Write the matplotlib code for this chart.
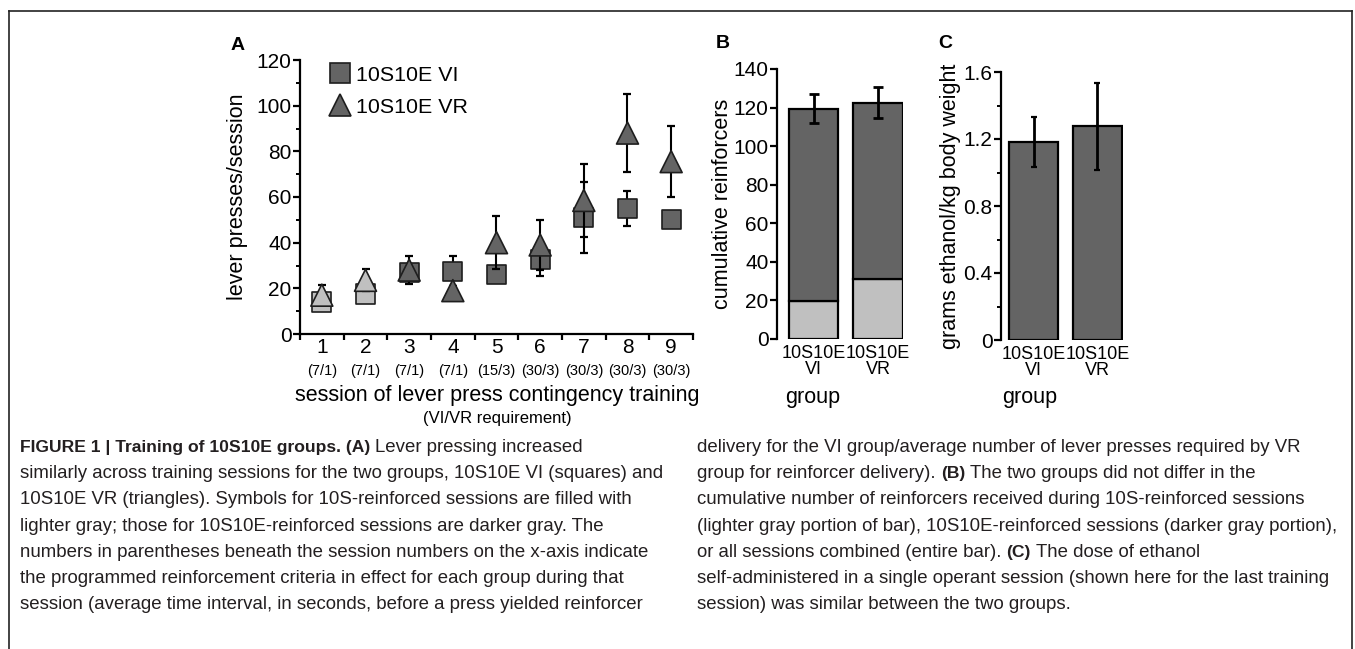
import matplotlib
matplotlib.use("Agg")
import numpy as np
import matplotlib.pyplot as plt
from matplotlib.lines import Line2D

plt.rcParams["font.family"] = ["Liberation Sans", "DejaVu Sans"]

# ---- data ----
sessions = [1, 2, 3, 4, 5, 6, 7, 8, 9]
requirement = ["(7/1)", "(7/1)", "(7/1)", "(7/1)", "(15/3)", "(30/3)", "(30/3)", "(30/3)", "(30/3)"]
reinforcer = ["10S", "10S", "10S10E", "10S10E", "10S10E", "10S10E", "10S10E", "10S10E", "10S10E"]
vi_mean = [14, 17.5, 27, 27.5, 26, 32.5, 51, 55, 50]
vi_sem = [2, 2, 3, 6.5, 3, 7, 15.5, 7.5, 2]
vr_mean = [17, 23.5, 28, 19, 40, 39, 58.5, 88, 75.5]
vr_sem = [4.5, 4.8, 6, 2, 11.5, 11, 16, 17, 15.5]

groups = ["10S10E\nVI", "10S10E\nVR"]
reinf_10s = [19.5, 31]
reinf_total = [119.5, 122.5]
reinf_sem = [7.5, 8]

dose = [1.18, 1.275]
dose_sem = [0.15, 0.26]

LIGHT = "#c0c0c0"
DARK = "#646464"
EDGE = "#1e1e1e"
W, H = 1355, 649

fig = plt.figure(figsize=(W / 100, H / 100), dpi=100)


def px_axes(x0, y0, x1, y1):
    return fig.add_axes([x0 / W, 1 - y1 / H, (x1 - x0) / W, (y1 - y0) / H])


def px_text(x, y, s, **kw):
    return fig.text(x / W, 1 - y / H, s, **kw)


def style_axes(ax):
    for side in ["top", "right", "bottom"]:
        ax.spines[side].set_visible(False)
    ax.spines["left"].set_linewidth(1.6)
    ax.tick_params(axis="y", which="major", length=5, width=1.6, labelsize=15, pad=1)
    ax.tick_params(axis="y", which="minor", length=3, width=1.4)


# ---- frame around the whole figure ----
for xs, ys in [([9, 9], [11, H]), ([9, 1352], [11, 11]), ([1352, 1352], [11, H])]:
    fig.add_artist(Line2D([x / W for x in xs], [1 - y / H for y in ys], color="#222222", lw=1.2))

# ---- panel A ----
axA = px_axes(300, 60, 693, 334)
style_axes(axA)
axA.spines["bottom"].set_visible(True)
axA.spines["bottom"].set_linewidth(1.6)
axA.set_xlim(0.5, 9.5)
axA.set_ylim(0, 120)
axA.set_yticks(np.arange(0, 121, 20))
axA.set_yticks(np.arange(10, 120, 20), minor=True)
axA.set_xticks(np.arange(0.5, 10, 1))
axA.set_xticklabels([])
axA.tick_params(axis="x", which="major", length=4, width=1.6)
axA.set_xticks(sessions, minor=True)
axA.set_xticklabels([str(s) for s in sessions], minor=True, fontsize=15)
axA.tick_params(axis="x", which="minor", length=0, pad=3)
for s, r in zip(sessions, requirement):
    axA.text(s, -0.135, r, transform=axA.get_xaxis_transform(), ha="center", va="center", fontsize=10.5)

colors = [LIGHT if r == "10S" else DARK for r in reinforcer]
axA.errorbar(sessions, vi_mean, yerr=vi_sem, fmt="none", ecolor="black", elinewidth=1.5,
             capsize=3, capthick=1.6, zorder=2)
axA.scatter(sessions, vi_mean, marker="s", s=190, c=colors, edgecolors=EDGE, linewidths=1.2, zorder=3)
axA.errorbar(sessions, vr_mean, yerr=vr_sem, fmt="none", ecolor="black", elinewidth=1.5,
             capsize=3, capthick=1.6, zorder=4)
axA.scatter(sessions, vr_mean, marker="^", s=250, c=colors, edgecolors=EDGE, linewidths=1.2, zorder=5)

handles = [
    Line2D([], [], marker="s", ls="none", ms=14, mfc=DARK, mec=EDGE, mew=1.2),
    Line2D([], [], marker="^", ls="none", ms=16, mfc=DARK, mec=EDGE, mew=1.2),
]
axA.legend(handles, ["10S10E VI", "10S10E VR"], loc="upper left", bbox_to_anchor=(0.045, 1.01),
           frameon=False, fontsize=15.4, handletextpad=0.1, labelspacing=0.6, handlelength=1.3,
           borderaxespad=0)
axA.set_ylabel("lever presses/session", fontsize=15.5)
axA.yaxis.set_label_coords(-0.132, 0.5)
px_text(497, 395, "session of lever press contingency training", ha="center", va="center", fontsize=15.5)
px_text(497, 418, "(VI/VR requirement)", ha="center", va="center", fontsize=12)
px_text(238, 46, "A", ha="center", va="center", fontsize=14, fontweight="bold")

# ---- panel B ----
axB = px_axes(777, 69, 903, 339)
style_axes(axB)
x = np.arange(len(groups))
axB.bar(x, reinf_10s, width=0.77, color=LIGHT, edgecolor="black", linewidth=1.6, zorder=2)
axB.bar(x, np.array(reinf_total) - np.array(reinf_10s), bottom=reinf_10s, width=0.77, color=DARK,
        edgecolor="black", linewidth=1.6, zorder=2)
axB.errorbar(x, reinf_total, yerr=reinf_sem, fmt="none", ecolor="black", elinewidth=2,
             capsize=3.5, capthick=2, zorder=3)
axB.set_xlim(-0.57, 1.39)
axB.set_ylim(0, 140)
axB.set_yticks(np.arange(0, 141, 20))
axB.set_xticks(x)
axB.set_xticklabels(groups, fontsize=13, linespacing=0.95)
axB.tick_params(axis="x", length=0, pad=4)
axB.set_ylabel("cumulative reinforcers", fontsize=15.5)
axB.yaxis.set_label_coords(-0.35, 0.5)
px_text(813, 398, "group", ha="center", va="center", fontsize=15.5)
px_text(723, 44, "B", ha="center", va="center", fontsize=14, fontweight="bold")

# ---- panel C ----
axC = px_axes(1001, 72, 1123, 340)
style_axes(axC)
axC.bar(x, dose, width=0.77, color=DARK, edgecolor="black", linewidth=1.6, zorder=2)
axC.errorbar(x, dose, yerr=dose_sem, fmt="none", ecolor="black", elinewidth=2,
             capsize=2, capthick=1.6, zorder=3)
axC.set_xlim(-0.51, 1.40)
axC.set_ylim(0, 1.6)
axC.set_yticks([0, 0.4, 0.8, 1.2, 1.6])
axC.set_yticklabels(["0", "0.4", "0.8", "1.2", "1.6"])
axC.set_yticks([0.2, 0.6, 1.0, 1.4], minor=True)
axC.set_xticks(x)
axC.set_xticklabels(groups, fontsize=13, linespacing=0.95)
axC.tick_params(axis="x", length=0, pad=4)
axC.set_ylabel("grams ethanol/kg body weight", fontsize=15.5)
axC.yaxis.set_label_coords(-0.328, 0.5)
px_text(1030, 398, "group", ha="center", va="center", fontsize=15.5)
px_text(945, 44, "C", ha="center", va="center", fontsize=14, fontweight="bold")

# ---- caption ----
left_col = [
    [("FIGURE 1 | Training of 10S10E groups. (A)", True), (" Lever pressing increased", False)],
    [("similarly across training sessions for the two groups, 10S10E VI (squares) and", False)],
    [("10S10E VR (triangles). Symbols for 10S-reinforced sessions are filled with", False)],
    [("lighter gray; those for 10S10E-reinforced sessions are darker gray. The", False)],
    [("numbers in parentheses beneath the session numbers on the x-axis indicate", False)],
    [("the programmed reinforcement criteria in effect for each group during that", False)],
    [("session (average time interval, in seconds, before a press yielded reinforcer", False)],
]
right_col = [
    [("delivery for the VI group/average number of lever presses required by VR", False)],
    [("group for reinforcer delivery). ", False), ("(B)", True), (" The two groups did not differ in the", False)],
    [("cumulative number of reinforcers received during 10S-reinforced sessions", False)],
    [("(lighter gray portion of bar), 10S10E-reinforced sessions (darker gray portion),", False)],
    [("or all sessions combined (entire bar). ", False), ("(C)", True), (" The dose of ethanol", False)],
    [("self-administered in a single operant session (shown here for the last training", False)],
    [("session) was similar between the two groups.", False)],
]

renderer = fig.canvas.get_renderer()
CAP_SIZE = 13.4
CAP_BOLD_SIZE = 12.6


def text_width(s, bold):
    size = CAP_BOLD_SIZE if bold else CAP_SIZE
    t = fig.text(0, 0, s, fontsize=size, fontweight="bold" if bold else "normal")
    w = t.get_window_extent(renderer).width
    t.remove()
    return w


def draw_line(x0, y, segments):
    xpos = x0
    for s, bold in segments:
        space = text_width("x x", bold) - text_width("xx", bold)
        lead = len(s) - len(s.lstrip(" "))
        trail = len(s) - len(s.rstrip(" "))
        xpos += lead * space
        core = s.strip(" ")
        px_text(xpos, y, core, fontsize=CAP_BOLD_SIZE if bold else CAP_SIZE,
                fontweight="bold" if bold else "normal", color="#231f20", va="baseline", ha="left")
        xpos += text_width(core, bold) + trail * space


for i, segs in enumerate(left_col):
    draw_line(20, 452 + 26.2 * i, segs)
for i, segs in enumerate(right_col):
    draw_line(697, 452 + 26.2 * i, segs)

fig.savefig("out.png", dpi=100)
